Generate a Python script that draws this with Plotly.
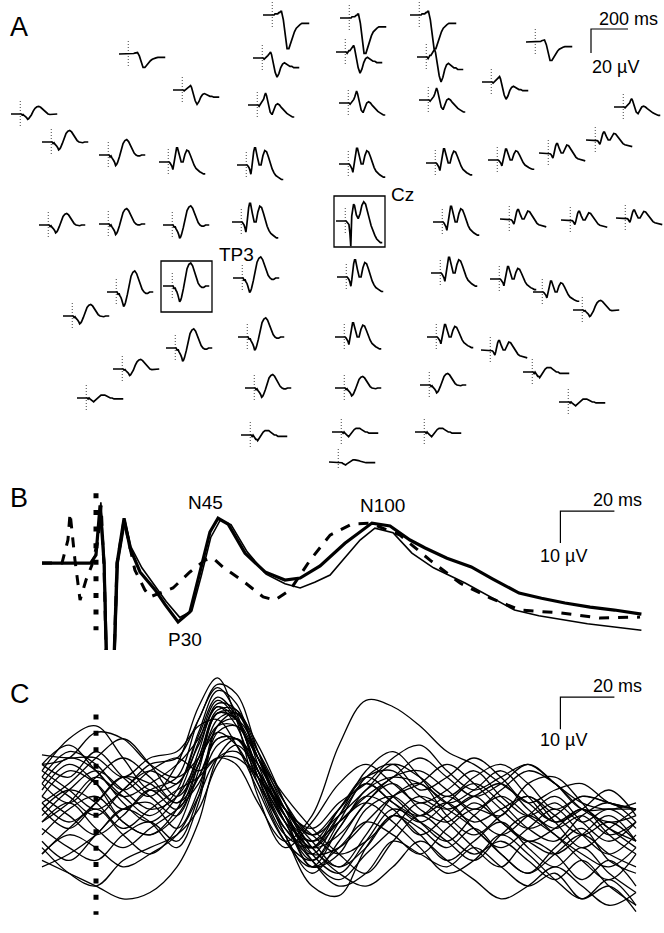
import plotly.graph_objects as go

W, H = 664, 933
FONT = "Liberation Sans, Arial, Helvetica, sans-serif"

# ---------------- Panel A: averaged responses at each electrode ----------------
TA_MS = [-50, -40, -30, -20, -10, 0, 5, 10, 15, 20, 25, 30, 35, 40, 45, 50,
         60, 70, 80, 90, 100, 110, 120, 130, 140, 150, 160, 170, 180, 190, 200]

# waveform shapes (µV, negative drawn upward)
WAVE_F = [0, 0, 0, 0, 0, 0, 0, 0, -1, -1, -1, -1, -2, -2, -3, -3,
          4, 18, 28, 28, 23, 18, 14, 11, 9, 8, 7, 7, 7, 7, 7]
WAVE_F2 = [0, 0, 0, 0, 0, 0, 0, 1, 0, -1, -1, -2, -3, -4, -5, -3,
           4, 12, 16, 13, 8, 5, 4, 5, 6, 7, 7, 8, 8, 8, 8]
WAVE_C1 = [0, 0, 0, 0, 0, 0, 0, 1, 0, -1, -2, -3, -5, -8, -10, -8,
           0, 6, 8, 4, 0, -1, 0, 2, 4, 6, 7, 8, 9, 10, 10]
WAVE_C2 = [0, 0, 0, 0, 0, 0, 0, 1, 2, 4, 7, 2, -5, -10, -13, -13,
           -6, 0, 0, -7, -11, -10, -6, -1, 3, 6, 8, 9, 10, 11, 11]
WAVE_CZ = [0, 0, 0, 0, 0, 0, 0, 1, 2, 3, 10, 21, -4, -12, -14, -13,
           -5, -2, -6, -13, -16, -14, -9, -2, 4, 9, 12, 15, 17, 18, 18]
WAVE_L = [0, 0, 0, 0, 0, 0, 0, 2, 1, 3, 4, 6, 8, 11, 10, 8,
          2, -6, -12, -15, -16, -14, -10, -6, -2, 0, 1, 1, 0, 0, 0]
WAVE_P = [0, 0, 0, 0, 0, 0, 0, 1, 0, 1, 2, 3, 3, 4, 3, 2,
          0, -2, -3, -3, -3, -2, -1, 0, 0, 1, 1, 1, 1, 1, 1]
WAVES = {"F": WAVE_F, "F2": WAVE_F2, "C1": WAVE_C1, "C2": WAVE_C2,
         "CZ": WAVE_CZ, "L": WAVE_L, "P": WAVE_P}

# electrode montage positions (layout units), waveform type and gain
EL_X = [263, 340, 410, 526, 119, 253, 336, 417, 482, 173, 248, 339, 419, 614, 11,
        42, 99, 159, 237, 339, 426, 488, 539, 586,
        39, 99, 163, 232, 336, 433, 500, 561, 616,
        163, 107, 233, 337, 431, 490, 533, 63, 573,
        166, 238, 335, 427, 481, 113, 523,
        77, 245, 335, 420, 559, 241, 332, 415, 329]
EL_Y = [15, 18, 15, 42, 54, 58, 52, 57, 82, 90, 105, 103, 100, 107, 114,
        142, 155, 162, 165, 164, 163, 160, 153, 140,
        225, 224, 225, 222, 221, 222, 219, 220, 218,
        286, 292, 278, 277, 273, 279, 292, 316, 310,
        348, 337, 337, 337, 350, 369, 372,
        398, 388, 388, 385, 402, 435, 432, 432, 462]
EL_TPL = ["F", "F", "F", "F", "F", "F2", "F2", "F2", "F2", "F2", "C1", "C1", "C1", "C1", "L",
          "L", "L", "C2", "C2", "C2", "C2", "C2", "C2", "C2",
          "L", "L", "L", "C2", "CZ", "C2", "C2", "C2", "C2",
          "L", "L", "L", "C2", "C2", "C2", "C2", "L", "L",
          "L", "L", "C2", "C2", "C2", "L", "P",
          "P", "L", "L", "L", "P", "P", "P", "P", "P"]
EL_GAIN = [1.0, 1.05, 1.0, 0.55, 0.4, 1.0, 1.1, 1.3, 0.9, 0.75, 1.0, 1.0, 1.0, 0.7, 0.4,
           0.6, 0.8, 0.9, 1.1, 1.0, 0.9, 0.7, 0.6, 0.5,
           0.6, 0.8, 1.0, 1.2, 1.0, 1.0, 0.6, 0.55, 0.5,
           1.2, 1.1, 1.1, 1.1, 1.0, 0.8, 0.7, 0.6, 0.5,
           1.0, 1.0, 0.9, 0.8, 0.6, 0.5, 1.2,
           0.8, 0.7, 0.6, 0.6, 0.8, 1.2, 1.0, 1.0, 0.6]
BOXED = {28: ("Cz", 66, -27), 33: ("TP3", 73, -32)}
A_MS_SCALE, A_UV_SCALE = 200, 20
A_PX_MS, A_PX_UV = 0.185, 1.2

# ---------------- Panel B: Cz responses ----------------
TB_THICK = [-20, -2, 0, 1.5, 3, 4.1, 6.3, 7.8, 10.4, 12.6, 16.3, 21.9, 25.6, 30.4, 34.8, 38.5,
            42.2, 45.2, 48.9, 55.2, 62.6, 70, 75.6, 83, 92.2, 102.2, 108.9, 116.3, 121.9,
            130, 139, 147, 156.7, 165, 173.7, 183, 192, 202]
VB_THICK = [0, 0, -2.5, -18, 0, 40, 40, 0, -14, -4.7, 2.8, 8.4, 13, 18.4, 15.3, 2.8,
            -9.7, -14, -12.2, -3.1, 2.8, 5.3, 4.7, 0.9, -6.2, -12.5, -11.6, -7.2, -4.7,
            -1.5, 1.2, 5, 9.4, 11, 12.5, 13.8, 14.7, 16]
TB_THIN = [-20, -2, 0, 1.8, 3.2, 4.5, 6.6, 8.2, 10.8, 13, 17, 22, 26, 31, 35.5, 39, 42.5,
           46, 50, 56, 63, 70, 75.6, 81, 86.7, 92, 97.8, 103.3, 110, 117, 125, 136.7,
           145, 155, 164, 173.7, 182, 192, 202]
VB_THIN = [0, 0, -3, -19, 0, 40, 40, 0, -13, -5, 1.5, 7.5, 12, 17, 15, 4, -8,
           -13.4, -12, -3.5, 3.5, 6.5, 7.8, 6, 3.75, -1.5, -7.2, -10.9, -9.5, -3.1, 1.5, 6.25,
           10, 14.7, 16.5, 17.8, 19, 20, 21]
TB_DASH = [-20, -12.6, -10.4, -9.6, -8.9, -7.8, -5.9, -3.7, -1.5, 0.7, 1.9, 3, 4.1, 6.3,
           7.8, 10.4, 14.4, 18.1, 20, 23.7, 28.5, 34.8, 40.4, 43.3, 47, 54.4, 61.9, 66.3,
           71.9, 79.3, 86.7, 94.8, 101.5, 112.6, 123.7, 134.8, 145.9, 157, 171.9, 186.7, 201.5]
VB_DASH = [0, 0, -7.2, -15.6, -10, -1, 11.6, 5.3, 0.6, -7, -18, 2, 40, 40,
           0, -13.4, 2.2, 8.4, 10.6, 9.4, 7.8, 2.8, -0.9, -1.6, 1.25, 5.6, 10.6, 11.6,
           8.4, -0.9, -8.75, -12.2, -12.5, -8.75, -0.9, 6.25, 10.9, 14.7, 15.6, 17.2, 16.9]
B_LABELS = [("N45", 40.4, -19), ("P30", 33, 24), ("N100", 106, -18)]

# ---------------- Panel C: single-subject Cz responses ----------------
TC = [-20, -10, 0, 10, 20, 30, 38, 45, 52, 60, 70, 80, 90, 100, 110, 120, 130, 140, 150,
      160, 170, 180, 190, 200]
C_SERIES = [
    [-8, -4, -12, -4, 2, -8, -26, -35, -22, 2, 18, 10, -2, -8, -2, 4, 0, -6, 2, 8, 4, 10, 6, 12],
    [2, -6, -2, 6, 0, -4, -22, -32, -24, -4, 14, 18, 6, -4, -6, 2, 6, 2, -2, 6, 12, 8, 14, 10],
    [10, 4, -4, 2, 8, 0, -18, -31, -27, -8, 10, 22, 12, 0, -4, -2, 4, 10, 6, 2, 8, 14, 10, 16],
    [-4, 2, 8, 0, -6, -2, -17, -29, -23, -6, 14, 26, 16, 4, -2, 6, 10, 4, 10, 16, 12, 6, 12, 18],
    [14, 6, 2, 10, 14, 6, -12, -27, -25, -10, 8, 24, 20, 6, 2, 8, 4, 12, 18, 12, 6, 14, 20, 14],
    [-2, -10, -6, 4, 10, 2, -15, -28, -22, -6, 12, 20, 8, -6, -12, -4, 4, 0, -6, 2, 10, 6, 0, 8],
    [6, 12, 4, -4, 2, 8, -8, -24, -24, -10, 6, 16, 24, 14, 2, -2, 8, 14, 8, 2, 10, 18, 12, 6],
    [20, 12, 6, 14, 20, 12, -6, -24, -22, -4, 14, 30, 33, 18, 8, 12, 18, 12, 20, 26, 18, 12, 22, 26],
    [-6, -16, -20, -10, 0, -2, -14, -26, -20, -2, 16, 24, 12, 2, 6, 14, 8, 2, 10, 16, 20, 14, 8, 16],
    [4, -2, -10, -16, -8, 2, -8, -22, -24, -14, 4, 20, 26, 16, 6, 10, 16, 22, 14, 8, 14, 22, 28, 20],
    [24, 20, 14, 6, 10, 18, 4, -20, -24, -10, 10, 22, 28, 20, 12, 4, 10, 18, 24, 16, 20, 28, 22, 30],
    [-11, -10, -10, -4, -10, -12, -20, -22, -14, 0, 16, 22, 10, -4, -8, 0, -4, -10, -4, 4, 0, -2, 4, 6],
    [8, 0, -6, 0, 6, 2, -10, -24, -22, -10, 6, 14, 6, -2, 4, 10, 4, -2, 4, 12, 16, 8, 4, 10],
    [16, 22, 14, 6, 4, 12, 0, -20, -22, -12, 4, 18, 24, 18, 8, 14, 22, 16, 10, 18, 24, 18, 26, 32],
    [2, 8, 14, 8, 0, 6, -8, -20, -20, -10, 4, 14, 8, 0, -8, -4, 2, -4, -8, -2, 6, 2, 4, 6],
    [12, 18, 22, 14, 10, 16, 2, -18, -20, -10, 2, 12, 20, 26, 16, 8, 14, 20, 16, 22, 28, 22, 30, 36],
    [-8, -10, -18, -16, -8, -4, -10, -18, -14, -2, 12, 18, 8, -2, 4, 8, 2, 8, 14, 8, 2, 10, 16, 10],
    [0, -8, -2, 10, 14, 8, -4, -16, -16, -8, 6, 12, 4, -2, -10, -14, -6, 0, -4, -8, -2, 4, 6, 4],
    [18, 26, 30, 22, 18, 14, 6, -8, -14, -6, 8, 22, 30, 26, 16, 20, 24, 18, 24, 30, 26, 34, 28, 36],
    [6, 0, 4, 12, 6, 0, -4, -10, -10, -4, 8, 18, 14, 4, -4, -6, 0, 6, 0, -6, -2, 6, 10, 8],
    [-4, -12, -8, 0, -6, -10, -6, -10, -8, 4, 16, 8, -14, -28, -26, -20, -12, -8, -2, 4, 10, 6, 12, 16],
    [20, 14, 18, 24, 20, 14, 2, -10, -12, -4, 6, 14, 20, 16, 8, 2, 6, 12, 20, 26, 20, 14, 20, 24],
    [-2, 4, -4, -10, -4, 4, -4, -16, -16, -4, 10, 24, 18, 10, 14, 20, 12, 6, 8, -2, -4, 4, 14, 20],
    [10, 4, 12, 18, 12, 6, -2, -14, -16, -6, 8, 16, 10, 4, 10, 18, 26, 22, 14, 20, 28, 34, 30, 38],
    [-8, -14, -6, 2, -2, -8, -16, -26, -22, -6, 10, 16, 6, -4, 2, 10, 16, 8, 2, 8, 14, 20, 24, 18],
    [4, 10, 4, -4, -2, 4, -10, -25, -25, -12, 6, 20, 18, 10, 2, -2, -8, -2, 6, 12, 8, 2, 4, 6],
    [22, 26, 30, 34, 32, 24, 10, -10, -16, -8, 6, 18, 26, 30, 24, 16, 22, 28, 34, 30, 24, 30, 36, 32],
    [-6, 0, 6, 0, -8, -10, -22, -33, -30, -12, 8, 18, 10, 2, -4, -10, -4, 2, -2, -8, -2, 6, 6, 6],
]

# ----------------------------------------------------------------------------
fig = go.Figure()
BLACK = "black"

# Panel A: stimulus markers
sx, sy = [], []
for ex, ey in zip(EL_X, EL_Y):
    xs = ex + (0 - TA_MS[0]) * A_PX_MS
    sx += [xs, xs, None]
    sy += [ey - 13, ey + 13, None]
fig.add_trace(go.Scatter(x=sx, y=sy, mode="lines", xaxis="x", yaxis="y",
                         line=dict(color="#444", width=1, dash="1px,2px"), hoverinfo="skip"))
# Panel A: waveforms
ax, ay = [], []
for ex, ey, tp, g in zip(EL_X, EL_Y, EL_TPL, EL_GAIN):
    w = WAVES[tp]
    for t, v in zip(TA_MS, w):
        ax.append(ex + (t - TA_MS[0]) * A_PX_MS)
        ay.append(ey + v * g * A_PX_UV)
    ax.append(None)
    ay.append(None)
fig.add_trace(go.Scatter(x=ax, y=ay, mode="lines", xaxis="x", yaxis="y",
                         line=dict(color=BLACK, width=1.7), hoverinfo="skip"))
# Panel A: scale bar
c0x, c0y = 591, 29
fig.add_trace(go.Scatter(x=[c0x + A_MS_SCALE * A_PX_MS, c0x, c0x],
                         y=[c0y, c0y, c0y + A_UV_SCALE * A_PX_UV], mode="lines",
                         xaxis="x", yaxis="y", line=dict(color=BLACK, width=1.2), hoverinfo="skip"))

shapes = []
annotations = []
for idx, (lab, dx, dy) in BOXED.items():
    ex, ey = EL_X[idx], EL_Y[idx]
    shapes.append(dict(type="rect", xref="x", yref="y", x0=ex - 2, x1=ex + 49,
                       y0=ey - 25, y1=ey + 26, line=dict(color=BLACK, width=1.3)))
    annotations.append(dict(text=lab, xref="x", yref="y", x=ex + dx, y=ey + dy,
                            showarrow=False, font=dict(size=19, family=FONT, color=BLACK)))
annotations.append(dict(text="200 ms", xref="x", yref="y", x=628, y=19, showarrow=False,
                        font=dict(size=18, family=FONT, color=BLACK)))
annotations.append(dict(text="20 µV", xref="x", yref="y", x=615, y=67, showarrow=False,
                        font=dict(size=18, family=FONT, color=BLACK)))

# Panel B
fig.add_trace(go.Scatter(x=[0, 0], y=[-21.8, 21], mode="lines", xaxis="x2", yaxis="y2",
                         line=dict(color=BLACK, width=5, dash="5px,11.6px"), hoverinfo="skip"))
fig.add_trace(go.Scatter(x=TB_DASH, y=VB_DASH, mode="lines", xaxis="x2", yaxis="y2",
                         line=dict(color=BLACK, width=3, dash="10px,9px"), hoverinfo="skip"))
fig.add_trace(go.Scatter(x=TB_THIN, y=VB_THIN, mode="lines", xaxis="x2", yaxis="y2",
                         line=dict(color=BLACK, width=1.6), hoverinfo="skip"))
fig.add_trace(go.Scatter(x=TB_THICK, y=VB_THICK, mode="lines", xaxis="x2", yaxis="y2",
                         line=dict(color=BLACK, width=3.2), hoverinfo="skip"))
fig.add_trace(go.Scatter(x=[172 + 20, 172, 172], y=[-16.25, -16.25, -6.25], mode="lines",
                         xaxis="x2", yaxis="y2", line=dict(color=BLACK, width=1.2), hoverinfo="skip"))
for lab, t, v in B_LABELS:
    annotations.append(dict(text=lab, xref="x2", yref="y2", x=t, y=v, showarrow=False,
                            font=dict(size=19, family=FONT, color=BLACK)))
annotations.append(dict(text="20 ms", xref="x2", yref="y2", x=193, y=-19.6, showarrow=False,
                        font=dict(size=18, family=FONT, color=BLACK)))
annotations.append(dict(text="10 µV", xref="x2", yref="y2", x=173, y=-2.3, showarrow=False,
                        font=dict(size=18, family=FONT, color=BLACK)))

# Panel C
fig.add_trace(go.Scatter(x=[0, 0], y=[-23.6, 39], mode="lines", xaxis="x3", yaxis="y3",
                         line=dict(color=BLACK, width=5, dash="5px,11.4px"), hoverinfo="skip"))
for s in C_SERIES:
    fig.add_trace(go.Scatter(x=TC, y=s, mode="lines", xaxis="x3", yaxis="y3",
                             line=dict(color=BLACK, width=1.3, shape="spline", smoothing=1.0),
                             hoverinfo="skip"))
fig.add_trace(go.Scatter(x=[172 + 20, 172, 172], y=[-29, -29, -19], mode="lines",
                         xaxis="x3", yaxis="y3", line=dict(color=BLACK, width=1.2), hoverinfo="skip"))
annotations.append(dict(text="20 ms", xref="x3", yref="y3", x=193, y=-32.6, showarrow=False,
                        font=dict(size=18, family=FONT, color=BLACK)))
annotations.append(dict(text="10 µV", xref="x3", yref="y3", x=173, y=-15.6, showarrow=False,
                        font=dict(size=18, family=FONT, color=BLACK)))

# Panel letters
for lab, px, py in [("A", 19, 27), ("B", 19, 498), ("C", 20, 694)]:
    annotations.append(dict(text=lab, xref="paper", yref="paper", x=px / W, y=1 - py / H,
                            showarrow=False, xanchor="center", yanchor="middle",
                            font=dict(size=27, family=FONT, color=BLACK)))

T_RANGE = [-96 / 2.7, (W - 96) / 2.7]
hidden = dict(visible=False, showgrid=False, zeroline=False, fixedrange=True)
fig.update_layout(
    width=W, height=H, margin=dict(l=0, r=0, t=0, b=0),
    paper_bgcolor="white", plot_bgcolor="white", showlegend=False,
    xaxis=dict(domain=[0, 1], range=[0, W], anchor="y", **hidden),
    yaxis=dict(domain=[1 - 470 / H, 1], range=[470, 0], anchor="x", **hidden),
    xaxis2=dict(domain=[0, 1], range=T_RANGE, anchor="y2", **hidden),
    yaxis2=dict(domain=[1 - 650 / H, 1 - 478 / H], range=[27.2, -26.6], anchor="x2", **hidden),
    xaxis3=dict(domain=[0, 1], range=T_RANGE, anchor="y3", **hidden),
    yaxis3=dict(domain=[1 - 928 / H, 1 - 668 / H], range=[43.1, -38.1], anchor="x3", **hidden),
    shapes=shapes, annotations=annotations,
)
fig.write_html("out.html")
